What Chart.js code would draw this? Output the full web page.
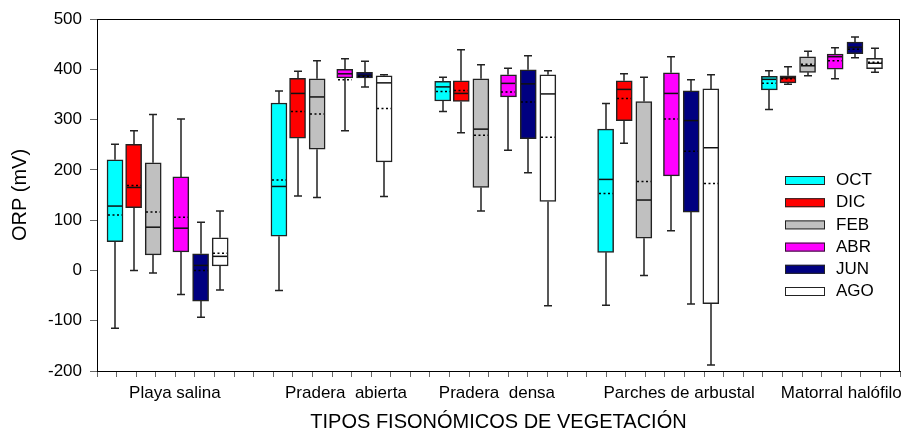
<!DOCTYPE html>
<html><head><meta charset="utf-8">
<script src="https://cdn.jsdelivr.net/npm/chart.js@4/dist/chart.umd.min.js"></script>
<style>html,body{margin:0;padding:0;background:#fff}#wrap{width:906px;height:434px;position:relative}</style>
</head><body><div id="wrap"><canvas id="c"></canvas></div>
<script>
// ---- DATA ----
const groups = ['Playa salina', 'Pradera  abierta', 'Pradera  densa', 'Parches de arbustal', 'Matorral halófilo'];
const months = ['OCT', 'DIC', 'FEB', 'ABR', 'JUN', 'AGO'];
const yTicks = [-200, -100, 0, 100, 200, 300, 400, 500];
// per group: [min, q1, median, q3, max, mean]
const OCT = [[-115, 57, 128, 220, 251, 110], [-40, 68, 167, 333, 357, 180], [316, 337, 365, 376, 384, 356], [-69, 36, 181, 281, 332, 153], [320, 359, 380, 386, 397, 372]];
const DIC = [[0, 125, 165, 251, 278, 169], [148, 263, 352, 382, 396, 316], [274, 336, 352, 377, 439, 358], [253, 298, 360, 377, 391, 342], [370, 373, 383, 387, 405, 381]];
const FEB = [[-5, 31, 86, 214, 310, 116], [145, 241, 345, 381, 417, 311], [118, 165, 281, 381, 409, 269], [-10, 64, 140, 336, 384, 177], [387, 394, 407, 425, 436, 410]];
const ABR = [[-48, 37, 84, 186, 301, 106], [278, 383, 391, 400, 421, 379], [239, 345, 372, 389, 402, 355], [79, 188, 352, 393, 425, 301], [381, 400, 425, 430, 443, 417]];
const JUN = [[-93, -61, 10, 33, 96, 0], [365, 383, 388, 394, 416, 386], [194, 262, 371, 399, 427, 335], [-67, 116, 298, 357, 379, 237], [423, 431, 444, 454, 464, 440]];
const AGO = [[-39, 9, 28, 65, 118, 34], [147, 216, 373, 387, 389, 322], [-70, 137, 351, 389, 397, 265], [-188, -66, 244, 361, 389, 173], [394, 401, 412, 422, 442, 414]];
const series = { OCT, DIC, FEB, ABR, JUN, AGO };

// ---- LAYOUT / STYLE ----
const colors = ['#00FFFF', '#FF0000', '#C0C0C0', '#FF00FF', '#000080', '#FFFFFF'];
const groupStart = [0.92, 9.29, 17.65, 25.97, 34.33];
const monthOffset = [0, 0.95, 1.95, 3.36, 4.37, 5.37];
const labelPos = [3.98, 12.71, 20.42, 29.72, 38.0];
const FONT = 'Liberation Sans, Arial, sans-serif';

const datasets = months.map((m, i) => ({
  label: m,
  data: series[m].map((s, g) => ({ x: groupStart[g] + monthOffset[i], y: [s[1], s[3]], stats: s })),
  backgroundColor: colors[i],
  borderColor: '#222',
  borderWidth: 1.5,
  borderSkipped: false,
  barThickness: 16,
  grouped: false,
  xAxisID: 'x', yAxisID: 'y'
}));

const boxPlugin = {
  id: 'boxextras',
  afterDatasetsDraw(chart) {
    const { ctx, chartArea: ca } = chart;
    const x = chart.scales.x, y = chart.scales.y;
    ctx.save();
    chart.data.datasets.forEach((ds) => {
      ds.data.forEach(d => {
        const [mn, q1, md, q3, mx, mean] = d.stats;
        const px = Math.round(x.getPixelForValue(d.x));
        const hw = 8, cw = 4;
        const yMin = y.getPixelForValue(mn), yQ1 = y.getPixelForValue(q1), yMd = y.getPixelForValue(md);
        const yQ3 = y.getPixelForValue(q3), yMx = y.getPixelForValue(mx), yMean = y.getPixelForValue(mean);
        ctx.setLineDash([]);
        ctx.strokeStyle = '#222'; ctx.lineWidth = 1.5;
        ctx.beginPath();
        ctx.moveTo(px, yQ3); ctx.lineTo(px, yMx);
        ctx.moveTo(px - cw, yMx); ctx.lineTo(px + cw, yMx);
        ctx.moveTo(px, yQ1); ctx.lineTo(px, yMin);
        ctx.moveTo(px - cw, yMin); ctx.lineTo(px + cw, yMin);
        ctx.stroke();
        ctx.beginPath();
        ctx.strokeStyle = '#111';
        ctx.moveTo(px - hw + 1, yMd); ctx.lineTo(px + hw - 1, yMd);
        ctx.stroke();
        ctx.beginPath();
        ctx.setLineDash([2, 2.5]);
        ctx.strokeStyle = '#000';
        ctx.moveTo(px - hw + 1, yMean); ctx.lineTo(px + hw - 1, yMean);
        ctx.stroke();
      });
    });
    ctx.setLineDash([]);
    // frame
    ctx.strokeStyle = '#000'; ctx.lineWidth = 1;
    ctx.strokeRect(ca.left + 0.5, ca.top + 0.5, ca.right - ca.left - 1, ca.bottom - ca.top);
    // legend
    ctx.font = '17px ' + FONT;
    ctx.textBaseline = 'middle';
    ctx.textAlign = 'left';
    months.forEach((m, i) => {
      const cy = 180 + i * 22.2;
      ctx.fillStyle = colors[i];
      ctx.fillRect(785, cy - 4, 40, 9);
      ctx.strokeStyle = '#222'; ctx.lineWidth = 1;
      ctx.strokeRect(785.5, cy - 3.5, 39, 8);
      ctx.fillStyle = '#000';
      ctx.fillText(m, 836, cy + 0.5);
    });
    ctx.restore();
  }
};

new Chart(document.getElementById('c'), {
  type: 'bar',
  data: { datasets },
  plugins: [boxPlugin],
  options: {
    responsive: true, maintainAspectRatio: false, animation: false,
    layout: { padding: { top: 19, right: 6, left: 0, bottom: 0 } },
    plugins: { legend: { display: false }, tooltip: { enabled: false } },
    scales: {
      x: {
        type: 'linear', min: 0, max: 41, position: 'bottom', weight: 0, offset: false,
        ticks: { stepSize: 1, callback: () => '', autoSkip: false, maxRotation: 0 },
        grid: { drawOnChartArea: false, tickLength: 6, color: '#666', offset: false },
        border: { color: '#000', width: 1 },
        afterFit: s => { s.height = 7; s.paddingLeft = 0; s.paddingRight = 0; }
      },
      x2: {
        type: 'linear', min: 0, max: 41, position: 'bottom', weight: 1, offset: false,
        afterBuildTicks: s => { s.ticks = labelPos.map(v => ({ value: v })); },
        ticks: { callback: (v, i) => groups[i], autoSkip: false, maxRotation: 0, minRotation: 0, color: '#000', font: { size: 17, family: FONT }, padding: 5 },
        grid: { display: false, drawTicks: false, offset: false }, border: { display: false },
        title: { display: true, text: 'TIPOS FISONÓMICOS DE VEGETACIÓN', color: '#000', font: { size: 20, family: FONT }, padding: { top: 0, bottom: 0 } },
        afterFit: s => { s.height = 56; s.paddingLeft = 0; s.paddingRight = 0; }
      },
      y: {
        type: 'linear', min: -200, max: 500,
        afterBuildTicks: s => { s.ticks = yTicks.map(v => ({ value: v })); },
        ticks: { color: '#000', font: { size: 17, family: FONT }, padding: 8 },
        grid: { drawOnChartArea: false, tickLength: 7, color: '#666' },
        border: { color: '#000', width: 1 },
        title: { display: true, text: 'ORP (mV)', color: '#000', font: { size: 20, family: FONT }, padding: { top: 8, bottom: 0 } },
        afterFit: s => { s.width = 97; }
      }
    }
  }
});
</script>
</body></html>
